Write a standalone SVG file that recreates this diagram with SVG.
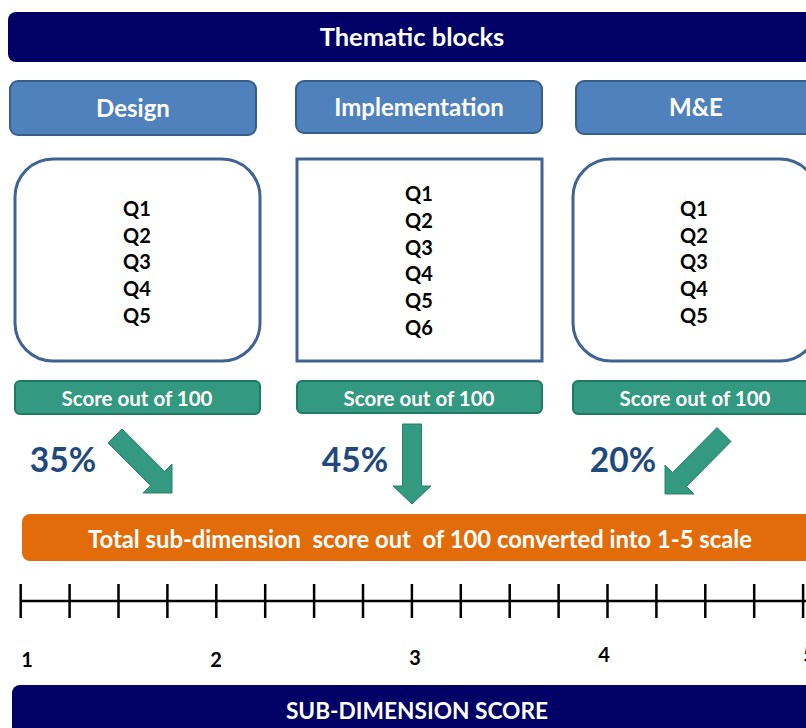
<svg xmlns="http://www.w3.org/2000/svg" width="806" height="728" viewBox="0 0 806 728">
  <style>
    text { font-family: Lato, "Open Sans", "Liberation Sans", sans-serif; font-weight: bold; text-anchor: middle; }
    .banner { fill: #000066; }
    .banner-t { fill: #ffffff; font-size: 25.5px; }
    .banner-b { fill: #ffffff; font-size: 22.7px; }
    .head { fill: #4f81bd; stroke: #385d8a; stroke-width: 2; }
    .head-t { fill: #ffffff; font-size: 24px; }
    .qbox { fill: #ffffff; stroke: #3f6494; stroke-width: 3; }
    .q { fill: #000000; font-size: 20px; }
    .score { fill: #339980; stroke: #1e7a60; stroke-width: 2; }
    .score-t { fill: #ffffff; font-size: 20.5px; }
    .pct { fill: #1f497d; font-size: 33.5px; }
    .arrow { fill: #339980; stroke: #2a8068; stroke-width: 1; }
    .total { fill: #e36c0a; }
    .total-t { fill: #ffffff; font-size: 23.8px; }
    .axis { stroke: #000000; stroke-width: 2.5; fill: none; }
    .num { fill: #000000; font-size: 20px; }
  </style>

  <!-- header banner -->
  <g id="thematic-blocks">
    <rect class="banner" x="8" y="12" width="820" height="50" rx="8"/>
    <text class="banner-t" x="412" y="46">Thematic blocks</text>
  </g>

  <!-- block headers -->
  <g id="design">
    <rect class="head" x="10" y="81" width="246" height="54" rx="8"/>
    <text class="head-t" x="133" y="117">Design</text>
  </g>
  <g id="implementation">
    <rect class="head" x="296" y="81" width="246" height="52" rx="8"/>
    <text class="head-t" x="419" y="116">Implementation</text>
  </g>
  <g id="me">
    <rect class="head" x="576" y="81" width="250" height="53" rx="8"/>
    <text class="head-t" x="696" y="116">M&amp;E</text>
  </g>

  <!-- question lists -->
  <g id="design-questions">
    <rect class="qbox" x="15" y="159" width="245" height="202" rx="38"/>
    <text class="q" x="137" y="216">Q1</text>
    <text class="q" x="137" y="243">Q2</text>
    <text class="q" x="137" y="269">Q3</text>
    <text class="q" x="137" y="296">Q4</text>
    <text class="q" x="137" y="323">Q5</text>
  </g>
  <g id="implementation-questions">
    <rect class="qbox" x="297" y="159" width="245" height="202" stroke-width="2.5"/>
    <text class="q" x="419" y="201">Q1</text>
    <text class="q" x="419" y="228">Q2</text>
    <text class="q" x="419" y="255">Q3</text>
    <text class="q" x="419" y="281">Q4</text>
    <text class="q" x="419" y="308">Q5</text>
    <text class="q" x="419" y="335">Q6</text>
  </g>
  <g id="me-questions">
    <rect class="qbox" x="573" y="159" width="245" height="202" rx="38"/>
    <text class="q" x="694" y="216">Q1</text>
    <text class="q" x="694" y="243">Q2</text>
    <text class="q" x="694" y="269">Q3</text>
    <text class="q" x="694" y="296">Q4</text>
    <text class="q" x="694" y="323">Q5</text>
  </g>

  <!-- block scores -->
  <g id="design-score">
    <rect class="score" x="15" y="381" width="245" height="33" rx="5"/>
    <text class="score-t" x="137" y="406">Score out of 100</text>
  </g>
  <g id="implementation-score">
    <rect class="score" x="297" y="381" width="245" height="32" rx="5"/>
    <text class="score-t" x="419" y="406">Score out of 100</text>
  </g>
  <g id="me-score">
    <rect class="score" x="573" y="381" width="250" height="33" rx="5"/>
    <text class="score-t" x="695" y="406">Score out of 100</text>
  </g>

  <!-- weights -->
  <g id="weights">
    <text class="pct" x="63" y="472">35%</text>
    <text class="pct" x="355" y="472">45%</text>
    <text class="pct" x="623" y="472">20%</text>
  </g>

  <!-- connectors: weighted arrows into the total -->
  <g id="connectors">
    <polygon class="arrow" points="108,443 122,429 164.5,471.5 172,464 172,493 143,493 150.5,485.5"/>
    <polygon class="arrow" points="402.5,424 421.5,424 421.5,486 431,486 412,504 393,486 402.5,486"/>
    <polygon class="arrow" points="717,427.5 731,441.5 686.5,486.5 694,494 665,494 665,465 672.5,472.5"/>
  </g>

  <!-- total -->
  <g id="total">
    <rect class="total" x="22" y="514" width="810" height="47" rx="8"/>
    <text class="total-t" x="420" y="548" xml:space="preserve">Total sub-dimension  score out  of 100 converted into 1-5 scale</text>
  </g>

  <!-- 1-5 scale -->
  <g id="scale">
    <path class="axis" d="M20.7,601 H806"/>
    <path class="axis" d="M20.7,584 V618 M69.6,584 V618 M118.5,584 V618 M167.4,584 V618 M216.3,584 V618 M265.2,584 V618 M314.1,584 V618 M363,584 V618 M411.9,584 V618 M460.8,584 V618 M509.7,584 V618 M558.6,584 V618 M607.5,584 V618 M656.4,584 V618 M705.3,584 V618 M754.2,584 V618 M803.1,584 V618"/>
    <text class="num" x="27" y="667">1</text>
    <text class="num" x="216" y="667">2</text>
    <text class="num" x="415" y="665">3</text>
    <text class="num" x="604" y="662">4</text>
    <text class="num" x="809" y="662">5</text>
  </g>

  <!-- result banner -->
  <g id="sub-dimension-score">
    <rect class="banner" x="12" y="685" width="820" height="60" rx="8"/>
    <text class="banner-b" x="417" y="719">SUB-DIMENSION SCORE</text>
  </g>
</svg>
